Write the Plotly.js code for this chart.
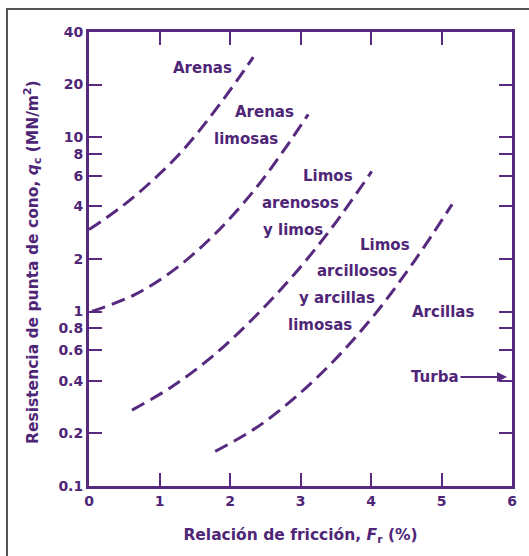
<!DOCTYPE html>
<html>
<head>
<meta charset="utf-8">
<script src="https://cdn.plot.ly/plotly-3.0.1.min.js"></script>
<style>
  html, body { margin: 0; padding: 0; background: #fff; }
  #wrap { position: relative; width: 529px; height: 556px; }
  #frame { position: absolute; left: 6px; top: 8px; right: 0; bottom: 0;
           border-left: 2px solid #555; border-top: 2px solid #555; }
  #chart { position: absolute; left: 0; top: 0; width: 529px; height: 556px; }
</style>
</head>
<body>
<div id="wrap"><div id="frame"></div><div id="chart"></div></div>
<script>
// Boundary curves (friction ratio %, cone resistance MN/m2)
const arenasX   = [0.00, 0.43, 0.85, 1.28, 1.70, 2.11, 2.33];
const arenasY   = [2.95, 3.90, 5.40, 7.97, 12.75, 21.4, 28.7];

const arenasLimX = [0.04, 0.65, 1.22, 1.79, 2.36, 2.78, 3.11];
const arenasLimY = [1.00, 1.25, 1.75, 2.79, 5.05, 8.58, 13.5];

const limosArenX = [0.61, 1.18, 1.75, 2.31, 2.88, 3.45, 4.01];
const limosArenY = [0.272, 0.372, 0.553, 0.897, 1.58, 3.04, 6.35];

const limosArcX = [1.79, 2.36, 2.92, 3.49, 4.06, 4.62, 5.15];
const limosArcY = [0.158, 0.214, 0.321, 0.531, 0.97, 1.96, 4.11];

const xTicks = [0, 1, 2, 3, 4, 5, 6];
const yTicks = [0.1, 0.2, 0.4, 0.6, 0.8, 1, 2, 4, 6, 8, 10, 20, 40];
const yTickText = ["0.1", "0.2", "0.4", "0.6", "0.8", "1", "2", "4", "6", "8", "10", "20", "40"];

const labels = [
  {text: "Arenas", px: 202, py: 68},
  {text: "Arenas", px: 264, py: 112},
  {text: "limosas", px: 246, py: 139},
  {text: "Limos", px: 328, py: 176},
  {text: "arenosos", px: 300, py: 203},
  {text: "y limos", px: 293, py: 230},
  {text: "Limos", px: 385, py: 245},
  {text: "arcillosos", px: 357, py: 271},
  {text: "y arcillas", px: 337, py: 298},
  {text: "limosas", px: 320, py: 325},
  {text: "Arcillas", px: 443, py: 312}
];

const PURPLE = "#57297f";
const TEXTC = "#4f2677";
const FONT = "'DejaVu Sans', Verdana, sans-serif";

const L = 89, R = 512, T = 32, B = 486;
const toPX = p => (p - L) / (R - L);
const toPY = p => (B - p) / (B - T);

const lineStyle = {color: PURPLE, width: 3, dash: "14px,7px", shape: "spline", smoothing: 1};
const mk = (x, y, name) => ({x, y, name, type: "scatter", mode: "lines", line: lineStyle, hoverinfo: "skip"});

const data = [
  mk(arenasX, arenasY, "Arenas"),
  mk(arenasLimX, arenasLimY, "Arenas limosas"),
  mk(limosArenX, limosArenY, "Limos arenosos y limos"),
  mk(limosArcX, limosArcY, "Limos arcillosos y arcillas limosas")
];

const labFont = {family: FONT, size: 15, color: TEXTC, weight: "bold"};
const annotations = labels.map(l => ({
  text: l.text, xref: "paper", yref: "paper", x: toPX(l.px), y: toPY(l.py),
  xanchor: "center", yanchor: "middle", showarrow: false, font: labFont
}));
annotations.push({
  text: "Turba", xref: "paper", yref: "paper", x: toPX(507), y: toPY(377),
  ax: -72, ay: 0, showarrow: true, arrowhead: 2, arrowsize: 1, arrowwidth: 2,
  arrowcolor: PURPLE, standoff: 0, font: labFont
});
// y-axis title placed as a rotated annotation for exact positioning
annotations.push({
  text: "Resistencia de punta de cono, <i>q</i><sub>c</sub> (MN/m<sup>2</sup>)",
  xref: "paper", yref: "paper", x: toPX(32), y: toPY(262), textangle: -90,
  xanchor: "center", yanchor: "middle", showarrow: false,
  font: {family: FONT, size: 15.5, color: TEXTC, weight: "bold"}
});

const tickFont = {family: FONT, size: 14, color: TEXTC, weight: "bold"};

const layout = {
  width: 529, height: 556,
  margin: {l: L, r: 529 - R, t: T, b: 556 - B},
  paper_bgcolor: "rgba(0,0,0,0)", plot_bgcolor: "rgba(0,0,0,0)",
  showlegend: false,
  xaxis: {
    range: [0, 6], tickvals: xTicks, ticks: "inside", ticklen: 13, tickwidth: 2,
    tickcolor: PURPLE, showline: true, linecolor: PURPLE, linewidth: 3, mirror: "ticks",
    showgrid: false, zeroline: false, tickfont: tickFont,
    title: {text: "Relación de fricción, <i>F</i><sub>r</sub> (%)", standoff: 22,
            font: {family: FONT, size: 15.5, color: TEXTC, weight: "bold"}}
  },
  yaxis: {
    type: "log", range: [Math.log10(0.1), Math.log10(40)],
    tickvals: yTicks, ticktext: yTickText, ticks: "inside", ticklen: 13, tickwidth: 2,
    tickcolor: PURPLE, showline: true, linecolor: PURPLE, linewidth: 3, mirror: "ticks",
    showgrid: false, zeroline: false, tickfont: tickFont
  },
  annotations
};

Plotly.newPlot("chart", data, layout, {displayModeBar: false, staticPlot: true});
</script>
</body>
</html>
